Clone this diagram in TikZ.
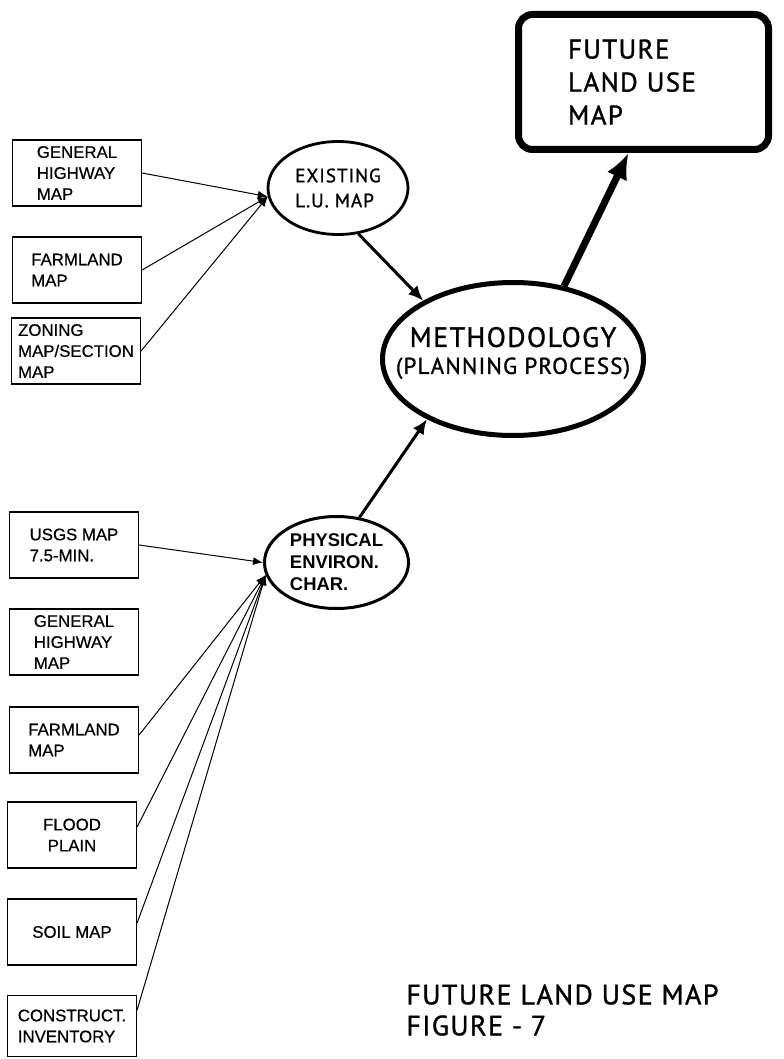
\documentclass[tikz,border=0pt]{standalone}
\usepackage{fontspec}
\setmainfont{Liberation Sans}
\newfontfamily\plotfont[LetterSpace=5,FakeBold=1.2]{PT Sans}
\newfontfamily\boxfont[FakeBold=0.6]{Liberation Sans}
\usetikzlibrary{arrows.meta,shapes}

\tikzset{
  mapbox/.style={draw, line width=0.6pt, minimum width=64.5pt, minimum height=33pt,
    inner sep=1pt, align=left, font=\boxfont\fontsize{8.4}{10.5}\selectfont},
  bubble/.style={draw, ellipse, inner sep=0pt, align=left},
  feed/.style={line width=0.5pt, -{Latex[length=5pt,width=4pt]}},
  mainflow/.style={line width=1.5pt, -{Latex[length=7.5pt,width=6.5pt]}},
  outflow/.style={line width=3.5pt, -{Latex[length=13pt,width=11pt]}}
}

\begin{document}
\begin{tikzpicture}[x=0.5pt,y=-0.5pt]
  \useasboundingbox (0,0) rectangle (783,1059);

  % maps for the existing land use
  \node[mapbox] (hwa) at (77,173) {GENERAL\\HIGHWAY\\MAP};
  \node[mapbox] (farma) at (77,270) {FARMLAND\\MAP};
  \node[mapbox] (zone) at (76,351) {ZONING\\MAP/SECTION\\MAP};

  % maps for the physical characteristics
  \node[mapbox] (usgs) at (74,545) {USGS MAP\\7.5-MIN.};
  \node[mapbox] (hwb) at (74,642) {GENERAL\\HIGHWAY\\MAP};
  \node[mapbox] (farmb) at (74,740) {FARMLAND\\MAP};
  \node[mapbox, align=center] (flood) at (72,835) {FLOOD\\PLAIN};
  \node[mapbox] (soil) at (72,932) {SOIL MAP};
  \node[mapbox, minimum height=30.5pt] (constr) at (72,1026) {CONSTRUCT.\\INVENTORY};

  % the bubbles
  \node[bubble, line width=1.4pt, minimum width=70pt, minimum height=46.5pt,
    font=\plotfont\fontsize{9.6}{12.5}\selectfont] (exist) at (338,188)
    {EXISTING\\L.U. MAP};
  \node[bubble, line width=1.5pt, minimum width=72pt, minimum height=46pt,
    font=\bfseries\fontsize{9.2}{11}\selectfont] (phys) at (336.5,562.5)
    {PHYSICAL\\ENVIRON.\\CHAR.};
  \node[bubble, line width=2.5pt, minimum width=130.5pt, minimum height=76.5pt,
    label={[font=\plotfont\fontsize{14}{13.5}\selectfont, align=center, yshift=3pt]center:METHODOLOGY\\{\fontsize{11.5}{13.5}\selectfont(PLANNING PROCESS)}}]
    (meth) at (513,359) {};

  % the result
  \node[draw, line width=3.5pt, rounded corners=7pt, text width=75.5pt,
    inner xsep=24.75pt, minimum height=67.5pt, align=left,
    font=\plotfont\fontsize{13.5}{16.5}\selectfont] (fut) at (643.5,82)
    {FUTURE\\LAND USE\\MAP};

  \node[anchor=north west, inner sep=0pt, align=left,
    font=\plotfont\fontsize{14}{15.5}\selectfont] (caption) at (406,984)
    {FUTURE LAND USE MAP\\FIGURE - 7};

  % connectors
  \draw[feed] (hwa.east) -- (exist.187);
  \draw[feed] (farma.east) -- (exist.187);
  \draw[feed] (zone.east) -- (exist.187);

  \draw[feed] (usgs.east) -- (phys.180);
  \draw[feed] ([yshift=2.5pt]farmb.east) -- (phys.190);
  \draw[feed] ([yshift=4pt]flood.east) -- (phys.190);
  \draw[feed] ([yshift=4.5pt]soil.east) -- (phys.190);
  \draw[feed] ([yshift=8pt]constr.east) -- (phys.190);

  \draw[mainflow] (exist.-66) -- (meth.147);
  \draw[mainflow] (phys.63) -- (meth.215);
  \draw[outflow] (meth.55) -- ([xshift=-7.5pt]fut.south);
\end{tikzpicture}
\end{document}
